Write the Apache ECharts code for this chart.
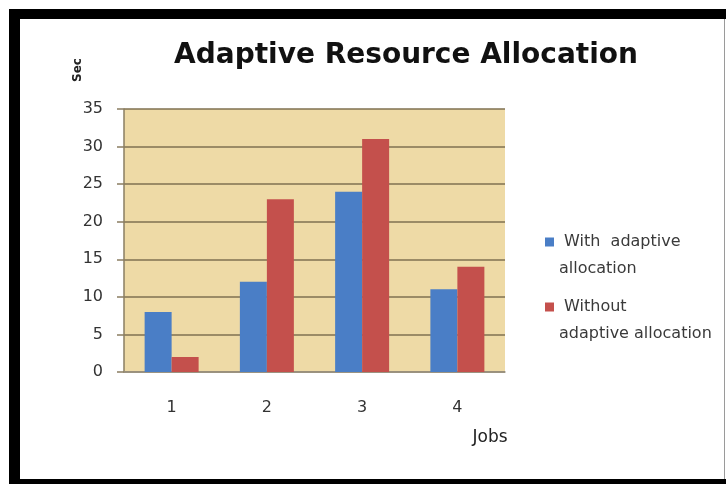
<!DOCTYPE html>
<html>
<head>
<meta charset="utf-8">
<script src="https://cdn.jsdelivr.net/npm/echarts@6/dist/echarts.min.js"></script>
<style>
html,body{margin:0;padding:0;background:#fff;}
#c{width:726px;height:484px;}
</style>
</head>
<body>
<div id="c"></div>
<script>
var titleText = 'Adaptive Resource Allocation';
var categories = ['1', '2', '3', '4'];
var seriesNames = ['\u00a0With  adaptive\nallocation', '\u00a0Without\nadaptive allocation'];
var withAdaptive = [8, 12, 24, 11];
var withoutAdaptive = [2, 23, 31, 14];
var yTicks = { min: 0, max: 35, interval: 5 };
var yName = 'Sec';
var xName = 'Jobs';

var chart = echarts.init(document.getElementById('c'), null, { renderer: 'canvas' });
var labelFont = 'DejaVu Sans';
var legendTextStyle = {
  fontFamily: labelFont, fontSize: 16, color: '#3a3a3a', lineHeight: 27
};
var option = {
  backgroundColor: '#ffffff',
  animation: false,
  title: {
    text: titleText,
    left: 401, top: 37, textAlign: 'center',
    textStyle: { fontFamily: 'DejaVu Sans', fontWeight: 'bold', fontSize: 28, color: '#111' }
  },
  grid: {
    left: 124, right: 221, top: 109, bottom: 112,
    show: true, backgroundColor: '#EEDAA6', borderWidth: 0
  },
  legend: [
    {
      data: [seriesNames[0]], orient: 'vertical', left: 545, top: 201.5, padding: 0,
      itemWidth: 9, itemHeight: 9, itemGap: 0, icon: 'rect', selectedMode: false,
      formatter: function (n) { return '\u00a0\n' + n; },
      textStyle: legendTextStyle
    },
    {
      data: [seriesNames[1]], orient: 'vertical', left: 545, top: 266.5, padding: 0,
      itemWidth: 9, itemHeight: 9, itemGap: 0, icon: 'rect', selectedMode: false,
      formatter: function (n) { return '\u00a0\n' + n; },
      textStyle: legendTextStyle
    }
  ],
  xAxis: {
    type: 'category', data: categories,
    axisLine: { show: true, lineStyle: { color: '#9a9282', width: 1.5 } },
    axisTick: { show: false },
    axisLabel: { margin: 28, fontFamily: labelFont, fontSize: 16, color: '#333' },
    splitLine: { show: false }
  },
  yAxis: {
    type: 'value', min: yTicks.min, max: yTicks.max, interval: yTicks.interval,
    axisLine: { show: true, lineStyle: { color: '#8a7e62', width: 1.5 } },
    axisTick: { show: true, length: 7, lineStyle: { color: '#8a7e62', width: 1.5 } },
    axisLabel: { margin: 21, fontFamily: labelFont, fontSize: 16, color: '#333' },
    splitLine: { show: true, lineStyle: { color: '#7f7150', width: 1.5 } }
  },
  series: [
    {
      name: seriesNames[0], type: 'bar', data: withAdaptive,
      barWidth: 27, barGap: '0%',
      itemStyle: { color: '#4A7EC6' }
    },
    {
      name: seriesNames[1], type: 'bar', data: withoutAdaptive,
      barWidth: 27, barGap: '0%',
      itemStyle: { color: '#C4504C' }
    }
  ],
  graphic: [
    { type: 'rect', shape: { x: 9, y: 9, width: 717, height: 10 }, style: { fill: '#000' }, silent: true },
    { type: 'rect', shape: { x: 9, y: 9, width: 11, height: 475 }, style: { fill: '#000' }, silent: true },
    { type: 'rect', shape: { x: 9, y: 479, width: 717, height: 5 }, style: { fill: '#000' }, silent: true },
    { type: 'rect', shape: { x: 724, y: 19, width: 1, height: 460 }, style: { fill: '#9a9a9a' }, silent: true },
    {
      type: 'text', x: 78, y: 70, rotation: Math.PI / 2,
      style: { text: yName, fontFamily: labelFont, fontWeight: 'bold', fontSize: 12, fill: '#222', align: 'center', verticalAlign: 'middle' },
      silent: true
    },
    {
      type: 'text', x: 490, y: 438,
      style: { text: xName, fontFamily: labelFont, fontSize: 17, fill: '#222', align: 'center', verticalAlign: 'middle' },
      silent: true
    }
  ]
};
chart.setOption(option);
</script>
</body>
</html>
